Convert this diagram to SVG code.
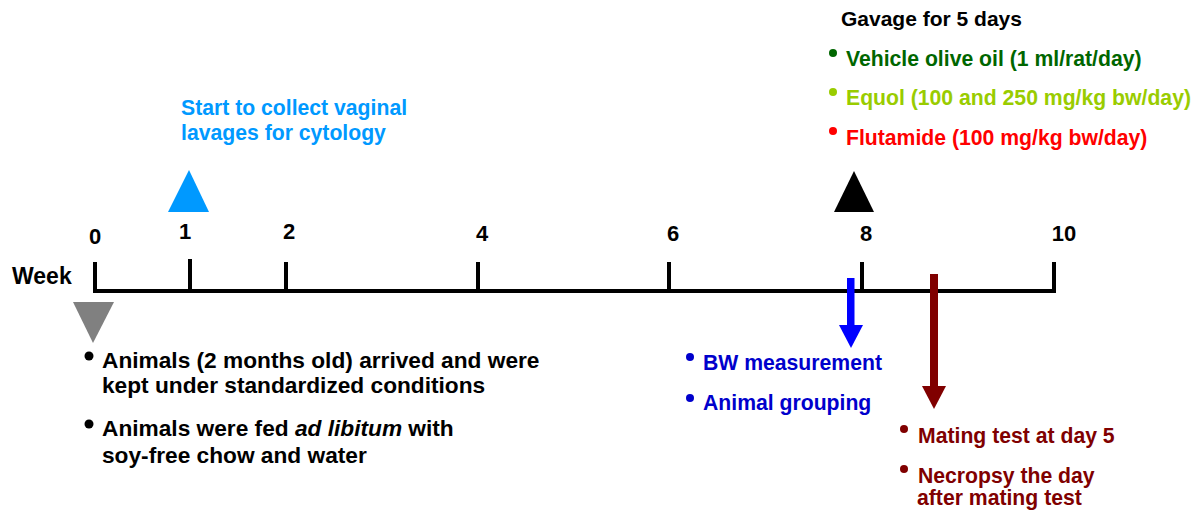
<svg xmlns="http://www.w3.org/2000/svg" width="1204" height="510" viewBox="0 0 1204 510">
<style>
text{font-family:"Liberation Sans",Arial,sans-serif;font-weight:bold}
.n{font-size:22px;fill:#000;text-anchor:middle}
.t{font-size:21.2px}
.l{font-size:22.7px;fill:#000}
.ax{stroke:#000;stroke-width:4;fill:none}
</style>
<rect width="1204" height="510" fill="#fff"/>
<g id="axis">
<line class="ax" x1="93" y1="291" x2="1056" y2="291"/>
<line class="ax" x1="95" y1="262" x2="95" y2="291"/>
<line class="ax" x1="190" y1="259" x2="190" y2="291"/>
<line class="ax" x1="286" y1="262" x2="286" y2="291"/>
<line class="ax" x1="478" y1="262" x2="478" y2="291"/>
<line class="ax" x1="669" y1="262" x2="669" y2="291"/>
<line class="ax" x1="862" y1="262" x2="862" y2="291"/>
<line class="ax" x1="1054" y1="262" x2="1054" y2="291"/>
<text x="12" y="284" style="font-size:23px">Week</text>
<text class="n" x="95" y="244">0</text>
<text class="n" x="185" y="239">1</text>
<text class="n" x="289" y="239">2</text>
<text class="n" x="482" y="241">4</text>
<text class="n" x="673" y="241">6</text>
<text class="n" x="866" y="241">8</text>
<text class="n" x="1064" y="241">10</text>
</g>
<g id="week0">
<polygon points="73,302 114,302 93,343" fill="#808080"/>
<circle cx="89" cy="356" r="4.5" fill="#000"/>
<text class="l" x="102" y="368">Animals (2 months old) arrived and were</text>
<text class="l" x="102" y="393">kept under standardized conditions</text>
<circle cx="89" cy="424" r="4.5" fill="#000"/>
<text class="l" x="102" y="436">Animals were fed <tspan font-style="italic">ad libitum</tspan> with</text>
<text class="l" x="102" y="463">soy-free chow and water</text>
</g>
<g id="week1">
<polygon points="168,212 209,212 189,170" fill="#0099ff"/>
<text class="t" x="181" y="115" fill="#0099ff">Start to collect vaginal</text>
<text class="t" x="181" y="140" fill="#0099ff">lavages for cytology</text>
</g>
<g id="gavage">
<polygon points="834,212 874,212 854,171" fill="#000"/>
<text class="t" x="841" y="26" fill="#000" style="font-size:21px">Gavage for 5 days</text>
<circle cx="833" cy="53" r="4" fill="#006600"/>
<text class="t" x="846" y="66" fill="#006600">Vehicle olive oil (1 ml/rat/day)</text>
<circle cx="833" cy="92" r="4" fill="#99cc00"/>
<text class="t" x="846" y="105" fill="#99cc00">Equol (100 and 250 mg/kg bw/day)</text>
<circle cx="833" cy="131" r="4" fill="#ff0000"/>
<text class="t" x="846" y="145" fill="#ff0000">Flutamide (100 mg/kg bw/day)</text>
</g>
<g id="connectors">
<rect x="847" y="278" width="7.5" height="48" fill="#0000ff"/>
<polygon points="839,325 863,325 851,348" fill="#0000ff"/>
<rect x="930" y="274" width="8" height="113" fill="#800000"/>
<polygon points="922,386 946,386 934,409" fill="#800000"/>
</g>
<g id="bw">
<circle cx="690" cy="357" r="4" fill="#0000cc"/>
<text class="t" x="703" y="370" fill="#0000cc">BW measurement</text>
<circle cx="690" cy="398" r="4" fill="#0000cc"/>
<text class="t" x="703" y="410" fill="#0000cc">Animal grouping</text>
</g>
<g id="mating">
<circle cx="904" cy="429" r="4" fill="#800000"/>
<text class="t" x="918" y="443" fill="#800000">Mating test at day 5</text>
<circle cx="904" cy="469" r="4" fill="#800000"/>
<text class="t" x="918" y="483" fill="#800000">Necropsy the day</text>
<text class="t" x="917" y="505" fill="#800000">after mating test</text>
</g>
</svg>
